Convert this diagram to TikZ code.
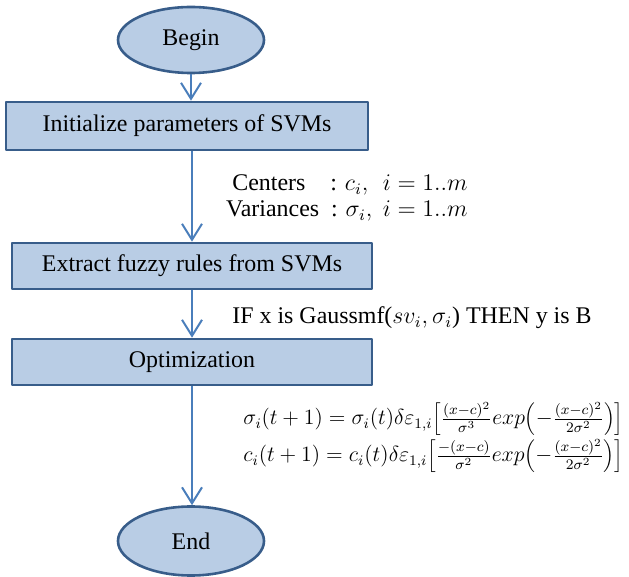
\documentclass[tikz,border=0pt]{standalone}
\usepackage{fontspec}
\usepackage{graphicx}
\setmainfont{Liberation Serif}
\usetikzlibrary{arrows.meta,shapes.geometric}
\definecolor{boxfill}{HTML}{B9CDE5}
\definecolor{boxline}{HTML}{385D8A}
\definecolor{arrowline}{HTML}{4A7EBB}
\tikzset{
  termbox/.style={ellipse,draw=boxline,fill=boxfill,line width=1.3bp,minimum width=73bp,minimum height=33bp,inner sep=0pt},
  stepbox/.style={rectangle,draw=boxline,fill=boxfill,line width=1.3bp,minimum width=180bp,minimum height=23bp,inner sep=0pt},
  note/.style={draw=none,inner sep=0pt},
  eqnote/.style={note,anchor=base west},
}
\newcommand{\eqfit}[1]{\resizebox{190bp}{!}{#1}}
\begin{document}
\begin{tikzpicture}[>={Straight Barb[length=8bp,width=10bp]},line join=bevel,font=\fontsize{12}{13}\selectfont]
%%
\useasboundingbox (0bp,0bp) rectangle (314.5bp,288.5bp);
\node (node_begin) at (95.5bp,268.5bp) [termbox] {Begin};
  \node (node_init) at (93.5bp,225.5bp) [stepbox,minimum width=181bp,minimum height=24bp] {Initialize parameters of SVMs};
  \node (node_extract) at (96.0bp,155.5bp) [stepbox] {Extract fuzzy rules from SVMs};
  \node (node_optim) at (96.0bp,107.5bp) [stepbox] {Optimization};
  \node (node_end) at (95.5bp,18.0bp) [termbox,minimum height=34.5bp] {End};
  \node (node_params) at (234.0bp,189.5bp) [note,anchor=east,align=right] {Centers\hspace{12.5pt}: $c_i,\;\, i = 1..m$\\Variances\hspace{6pt}: $\sigma_i,\; i = 1..m$};
  \node (node_rule) at (116.0bp,129.5bp) [note,anchor=west] {IF x is Gaussmf($sv_i, \sigma_i$) THEN y is B};
  \node (node_sigma) at (121.5bp,76.0bp) [eqnote] {\eqfit{$\sigma_i(t+1) = \sigma_i(t)\delta\varepsilon_{1,i}\Bigl[{\frac{(x-c)^2}{\sigma^3}}exp\Bigl(-{\frac{(x-c)^2}{2\sigma^2}}\Bigr)\Bigr]$}};
  \node (node_center) at (121.5bp,57.5bp) [eqnote] {\eqfit{$c_i(t+1) = c_i(t)\delta\varepsilon_{1,i}\Bigl[{\frac{-(x-c)}{\sigma^2}}exp\Bigl(-{\frac{(x-c)^2}{2\sigma^2}}\Bigr)\Bigr]$}};
  \draw [arrowline,line width=1bp,->] (node_begin.south) -- (node_begin.south |- node_init.north);
  \draw [arrowline,line width=1bp,->] (node_extract.north |- node_init.south) -- (node_extract.north);
  \draw [arrowline,line width=1bp,->] (node_extract.south) -- (node_optim.north);
  \draw [arrowline,line width=1bp,->] (node_optim.south) -- (node_optim.south |- node_end.north);
%
\end{tikzpicture}
\end{document}
